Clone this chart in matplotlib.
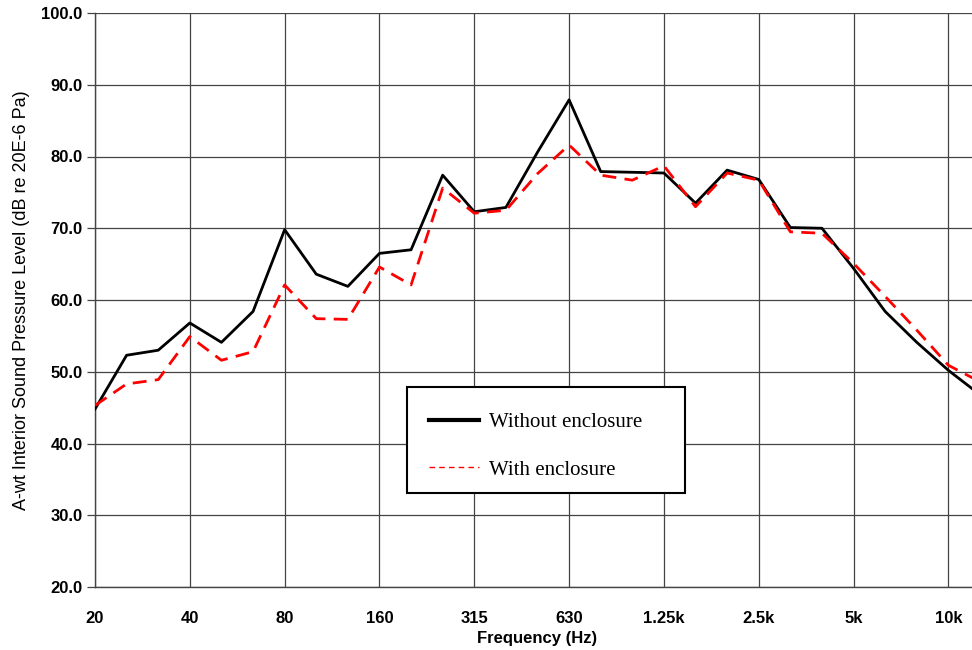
import matplotlib
matplotlib.use("Agg")
import matplotlib.pyplot as plt
from matplotlib.lines import Line2D
from matplotlib.patches import Rectangle

bands = ["20", "25", "31.5", "40", "50", "63", "80", "100", "125", "160", "200", "250",
         "315", "400", "500", "630", "800", "1k", "1.25k", "1.6k", "2k", "2.5k", "3.15k",
         "4k", "5k", "6.3k", "8k", "10k", "12.5k"]
without_enclosure = [44.8, 52.3, 53.0, 56.8, 54.1, 58.4, 69.8, 63.6, 61.9, 66.5, 67.0, 77.4,
                     72.3, 72.9, 80.6, 87.9, 77.9, 77.8, 77.7, 73.5, 78.1, 76.8, 70.1,
                     70.0, 64.4, 58.4, 54.1, 50.2, 46.8]
with_enclosure = [45.3, 48.3, 48.9, 54.9, 51.6, 52.8, 62.1, 57.4, 57.3, 64.6, 62.1, 75.6,
                  72.1, 72.5, 77.6, 81.6, 77.4, 76.7, 78.7, 73.0, 77.7, 76.7, 69.5,
                  69.3, 65.1, 60.5, 55.8, 50.9, 48.6]
tick_labels = ["20", "40", "80", "160", "315", "630", "1.25k", "2.5k", "5k", "10k"]
yticks = [20, 30, 40, 50, 60, 70, 80, 90, 100]

W, H = 972, 650
fig = plt.figure(figsize=(W/100, H/100), dpi=100)
ax = fig.add_axes([95/W, 1 - 587/H, (980 - 95)/W, (587 - 13)/H])

x = list(range(len(bands)))
ax.plot(x, without_enclosure, color="black", lw=2.0, zorder=3)
ax.plot(x, with_enclosure, color="#ff0000", lw=2.0, dashes=(5, 3), zorder=4)

ax.set_xlim(0, len(bands) - 1)
ax.set_ylim(20, 100)
tick_pos = [bands.index(t) for t in tick_labels]
ax.set_xticks(tick_pos)
ax.set_xticklabels(tick_labels)
ax.set_yticks(yticks)
ax.set_yticklabels([f"{v:.1f}" for v in yticks])

ax.grid(True, color="#444444", lw=0.9)
ax.set_axisbelow(True)
for s in ["top", "right"]:
    ax.spines[s].set_visible(False)
for s in ["left", "bottom"]:
    ax.spines[s].set_color("#444444")
    ax.spines[s].set_linewidth(1.0)

ax.tick_params(axis="x", length=0, pad=17)
ax.tick_params(axis="y", length=6, width=0.9, color="#444444", pad=3)
for lab in ax.get_xticklabels() + ax.get_yticklabels():
    lab.set_fontfamily("Liberation Sans")
    lab.set_fontweight("bold")
    lab.set_fontsize(12)

ax.set_xlabel("Frequency (Hz)", fontfamily="Liberation Sans", fontweight="bold",
              fontsize=12, labelpad=4)
ax.set_ylabel("A-wt Interior Sound Pressure Level (dB re 20E-6 Pa)",
              fontfamily="Liberation Sans", fontsize=13, labelpad=8)

# legend frame
frame = Rectangle((407/W, 1 - 493/H), (685 - 407)/W, (493 - 387)/H,
                  transform=fig.transFigure, facecolor="white", edgecolor="black",
                  lw=1.5, zorder=9)
fig.add_artist(frame)

handles = [Line2D([], [], color="black", lw=3.0),
           Line2D([], [], color="#ff0000", lw=1.0, dashes=(4, 3))]
leg = fig.legend(handles, ["Without enclosure", "With enclosure"],
                 loc="center left", bbox_to_anchor=(429/W, 1 - 446/H),
                 bbox_transform=fig.transFigure, frameon=False,
                 prop={"family": "Liberation Serif", "size": 15},
                 handlelength=2.4, handletextpad=0.5, labelspacing=1.35,
                 borderpad=0, borderaxespad=0)
leg.set_zorder(10)

fig.savefig("out.png", dpi=100)
